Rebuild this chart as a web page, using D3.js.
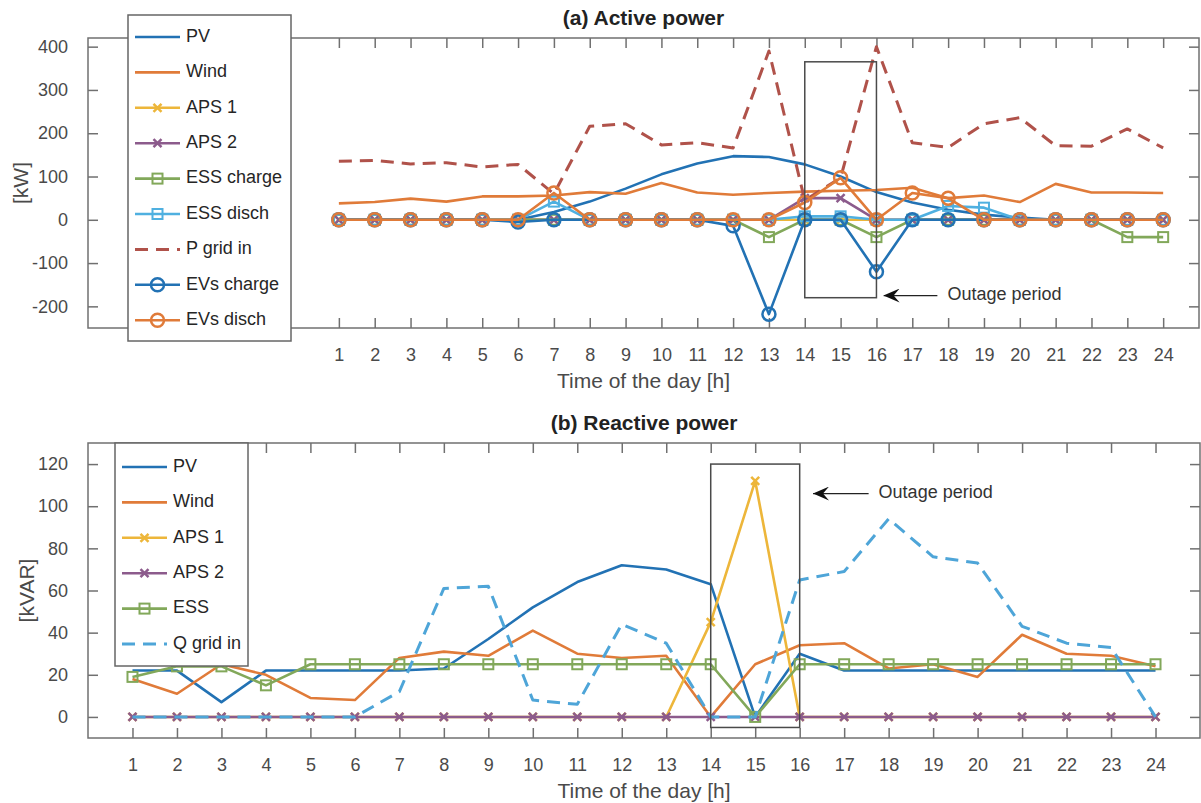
<html>
<head>
<meta charset="utf-8">
<script src="https://d3js.org/d3.v7.min.js"></script>
<style>
  body { margin: 0; background: #fff; }
  text { font-family: "Liberation Sans", Arial, sans-serif; }
</style>
</head>
<body>
<svg id="chart"></svg>
<script>
// hours of the day
var hours = [1,2,3,4,5,6,7,8,9,10,11,12,13,14,15,16,17,18,19,20,21,22,23,24];

// (a) active power [kW]
var pvP     = [0,0,0,0,0,0,18,42,72,105,130,147,145,128,100,64,40,23,12,5,0,0,0,0];
var windP   = [38,41,49,42,54,54,56,64,60,85,63,58,62,65,67,69,74,50,56,41,83,63,63,62];
var aps1P   = [0,0,0,0,0,0,0,0,0,0,0,0,0,0,0,0,0,0,0,0,0,0,0,0];
var aps2P   = [0,0,0,0,0,0,0,0,0,0,0,0,0,50,50,0,0,0,0,0,0,0,0,0];
var essChP  = [0,0,0,0,0,0,0,0,0,0,0,0,-40,0,0,-40,0,0,0,0,0,0,-40,-40];
var essDisP = [0,0,0,0,0,0,42,0,0,0,0,0,0,8,8,0,0,32,28,0,0,0,0,0];
var pGridIn = [135,137,129,132,122,128,60,216,222,173,178,166,390,45,97,400,178,167,222,236,171,170,210,166];
var evChP   = [0,0,0,0,0,-5,0,0,0,0,0,-14,-218,0,0,-120,0,0,0,0,0,0,0,0];
var evDisP  = [0,0,0,0,0,0,62,0,0,0,0,0,0,40,97,0,62,50,0,0,0,0,0,0];

// (b) reactive power [kVAR]
var pvQ     = [22,22,7,22,22,22,22,23,37,52,64,72,70,63,0,30,22,22,22,22,22,22,22,22];
var windQ   = [18,11,25,20,9,8,28,31,29,41,30,28,29,0,25,34,35,23,25,19,39,30,29,24];
var aps1Q   = [0,0,0,0,0,0,0,0,0,0,0,0,0,45,112,0,0,0,0,0,0,0,0,0];
var aps2Q   = [0,0,0,0,0,0,0,0,0,0,0,0,0,0,0,0,0,0,0,0,0,0,0,0];
var essQ    = [19,24,24,15,25,25,25,25,25,25,25,25,25,25,0,25,25,25,25,25,25,25,25,25];
var qGridIn = [0,0,0,0,0,0,12,61,62,8,6,44,35,0,0,65,69,94,76,73,43,35,33,0];

var ticksP = [-200,-100,0,100,200,300,400];
var ticksQ = [0,20,40,60,80,100,120];

// outage window (hours) and box height for each panel
var outage = [14, 16];
var outageP = [-180, 365];
var outageQ = [-5, 120];

var c = {
  pv: "#2272b4", wind: "#e07b39", aps1: "#edb63a", aps2: "#8c5b8c",
  ess: "#82a85a", essd: "#4fb0e0", pgrid: "#b0524a", qgrid: "#4ea5d8"
};

var width = 1201, height = 803;
var svg = d3.select("#chart").attr("width", width).attr("height", height);

svg.append("defs").append("marker")
   .attr("id", "arrow")
   .attr("viewBox", "0 0 16 14")
   .attr("refX", 0).attr("refY", 7)
   .attr("markerWidth", 16).attr("markerHeight", 14)
   .attr("markerUnits", "userSpaceOnUse")
   .attr("orient", "auto")
   .append("path")
   .attr("d", "M0,7 L16,0 L10,7 L16,14 Z")
   .attr("fill", "#111");

function drawMarker(g, type, x, y, color) {
  if (type == "o") {
    g.append("circle").attr("cx", x).attr("cy", y).attr("r", 6.5)
     .attr("fill", "none").attr("stroke", color).attr("stroke-width", 2.5);
  } else if (type == "s") {
    g.append("rect").attr("x", x - 5).attr("y", y - 5).attr("width", 10).attr("height", 10)
     .attr("fill", "none").attr("stroke", color).attr("stroke-width", 2);
  } else if (type == "x") {
    g.append("path").attr("d", "M" + (x-4) + "," + (y-4) + "L" + (x+4) + "," + (y+4) +
                                "M" + (x-4) + "," + (y+4) + "L" + (x+4) + "," + (y-4))
     .attr("stroke", color).attr("stroke-width", 2.5).attr("fill", "none");
  }
}

function drawPanel(p) {
  var x = d3.scaleLinear().domain(p.xDomain).range([p.left, p.right]);
  var y = d3.scaleLinear().domain(p.yDomain).range([p.bottom, p.top]);
  var g = svg.append("g");

  // title
  g.append("text")
   .attr("x", (p.left + p.right) / 2).attr("y", p.top - 13)
   .attr("text-anchor", "middle")
   .style("font-size", "21px").style("font-weight", "bold").attr("fill", "#222")
   .text(p.title);

  // axes frame with inward ticks on all four sides
  var tickColor = "#707070";
  g.append("g").attr("transform", "translate(0," + p.bottom + ")")
   .call(d3.axisBottom(x).tickValues(hours).tickSizeInner(-10).tickSizeOuter(0).tickPadding(20))
   .call(function(a) { a.select(".domain").remove(); });
  g.append("g").attr("transform", "translate(0," + p.top + ")")
   .call(d3.axisTop(x).tickValues(hours).tickSizeInner(-10).tickSizeOuter(0).tickFormat(""))
   .call(function(a) { a.select(".domain").remove(); });
  g.append("g").attr("transform", "translate(" + p.left + ",0)")
   .call(d3.axisLeft(y).tickValues(p.yTicks).tickSizeInner(-10).tickSizeOuter(0).tickPadding(20)
           .tickFormat(function(d) { return String(d); }))
   .call(function(a) { a.select(".domain").remove(); });
  g.append("g").attr("transform", "translate(" + p.right + ",0)")
   .call(d3.axisRight(y).tickValues(p.yTicks).tickSizeInner(-10).tickSizeOuter(0).tickFormat(""))
   .call(function(a) { a.select(".domain").remove(); });
  g.selectAll(".tick line").attr("stroke", tickColor).attr("stroke-width", 1.5);
  g.selectAll(".tick text").attr("fill", "#4a4a4a")
   .style("font-size", "18px").style("font-family", "Liberation Sans, Arial, sans-serif");
  g.append("rect")
   .attr("x", p.left).attr("y", p.top)
   .attr("width", p.right - p.left).attr("height", p.bottom - p.top)
   .attr("fill", "none").attr("stroke", tickColor).attr("stroke-width", 1.5);

  // axis labels
  g.append("text")
   .attr("x", (p.left + p.right) / 2).attr("y", p.bottom + 60)
   .attr("text-anchor", "middle").attr("fill", "#4a4a4a").style("font-size", "21px")
   .text("Time of the day [h]");
  g.append("text")
   .attr("transform", "translate(" + p.yLabelX + "," + y(p.yLabelAt) + ")rotate(-90)")
   .attr("text-anchor", "middle").attr("dominant-baseline", "middle")
   .attr("fill", "#4a4a4a").style("font-size", "21px")
   .text(p.yLabel);

  // series
  var line = d3.line().x(function(d, i) { return x(hours[i]); }).y(function(d) { return y(d); });
  p.series.forEach(function(s) {
    g.append("path").datum(s.values)
     .attr("d", line)
     .attr("fill", "none").attr("stroke", s.color)
     .attr("stroke-width", s.dash ? 3 : 2.6)
     .attr("stroke-dasharray", s.dash ? "13,8" : null)
     .attr("stroke-linejoin", "round");
    if (s.marker) {
      var mg = g.append("g");
      s.values.forEach(function(v, i) { drawMarker(mg, s.marker, x(hours[i]), y(v), s.color); });
    }
  });

  // outage period box and arrow
  g.append("rect")
   .attr("x", x(outage[0])).attr("y", y(p.outageY[1]))
   .attr("width", x(outage[1]) - x(outage[0]))
   .attr("height", y(p.outageY[0]) - y(p.outageY[1]))
   .attr("fill", "none").attr("stroke", "#4a4a4a").attr("stroke-width", 1.5);
  g.append("line")
   .attr("x1", x(p.arrow[0])).attr("x2", x(p.arrow[1]))
   .attr("y1", y(p.arrow[2])).attr("y2", y(p.arrow[2]))
   .attr("stroke", "#222").attr("stroke-width", 1.3)
   .attr("marker-start", "url(#arrow)");
  g.append("text")
   .attr("x", x(p.arrow[1]) + 10).attr("y", y(p.arrow[2]))
   .attr("dominant-baseline", "middle").attr("fill", "#333").style("font-size", "18px")
   .text("Outage period");

  // legend
  var lg = g.append("g");
  var L = p.legend;
  lg.append("rect")
    .attr("x", L.x).attr("y", L.y).attr("width", L.w).attr("height", L.h)
    .attr("fill", "#fff").attr("stroke", "#666").attr("stroke-width", 1.5);
  p.series.forEach(function(s, i) {
    var ly = L.y0 + i * L.step;
    lg.append("line")
      .attr("x1", L.x + 7).attr("x2", L.x + 52).attr("y1", ly).attr("y2", ly)
      .attr("stroke", s.color).attr("stroke-width", s.dash ? 3 : 2.6)
      .attr("stroke-dasharray", s.dash ? "13,8" : null);
    if (s.marker) drawMarker(lg, s.marker, L.x + 29.5, ly, s.color);
    lg.append("text")
      .attr("x", L.x + 58).attr("y", ly)
      .attr("dominant-baseline", "middle").attr("fill", "#262626").style("font-size", "18px")
      .text(s.name);
  });
}

// (a) Active power
drawPanel({
  title: "(a) Active power",
  left: 88, right: 1199, top: 38, bottom: 328,
  xDomain: [-6, 25], yDomain: [-250, 420], yTicks: ticksP,
  yLabel: "[kW]", yLabelX: 22, yLabelAt: 85,
  outageY: outageP, arrow: [16.2, 17.7, -175],
  legend: { x: 128, y: 15, w: 163, h: 326, y0: 37, step: 35.4 },
  series: [
    { name: "PV", values: pvP, color: c.pv },
    { name: "Wind", values: windP, color: c.wind },
    { name: "APS 1", values: aps1P, color: c.aps1, marker: "x" },
    { name: "APS 2", values: aps2P, color: c.aps2, marker: "x" },
    { name: "ESS charge", values: essChP, color: c.ess, marker: "s" },
    { name: "ESS disch", values: essDisP, color: c.essd, marker: "s" },
    { name: "P grid in", values: pGridIn, color: c.pgrid, dash: true },
    { name: "EVs charge", values: evChP, color: c.pv, marker: "o" },
    { name: "EVs disch", values: evDisP, color: c.wind, marker: "o" }
  ]
});

// (b) Reactive power
drawPanel({
  title: "(b) Reactive power",
  left: 88, right: 1200, top: 443, bottom: 738,
  xDomain: [0, 25], yDomain: [-10, 130], yTicks: ticksQ,
  yLabel: "[kVAR]", yLabelX: 28, yLabelAt: 60,
  outageY: outageQ, arrow: [16.3, 17.55, 106],
  legend: { x: 115, y: 443, w: 133, h: 223, y0: 467, step: 35.4 },
  series: [
    { name: "PV", values: pvQ, color: c.pv },
    { name: "Wind", values: windQ, color: c.wind },
    { name: "APS 1", values: aps1Q, color: c.aps1, marker: "x" },
    { name: "APS 2", values: aps2Q, color: c.aps2, marker: "x" },
    { name: "ESS", values: essQ, color: c.ess, marker: "s" },
    { name: "Q grid in", values: qGridIn, color: c.qgrid, dash: true }
  ]
});
</script>
</body>
</html>
